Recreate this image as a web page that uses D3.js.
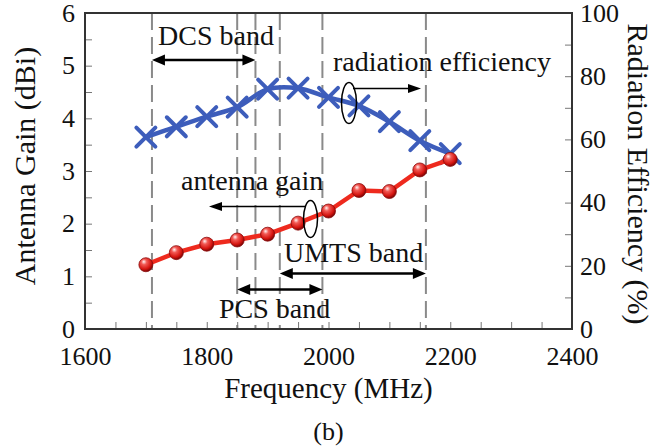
<!DOCTYPE html>
<html>
<head>
<meta charset="utf-8">
<script src="https://cdn.jsdelivr.net/npm/d3@7"></script>
<style>
  html, body { margin: 0; padding: 0; background: #fff; }
  svg { display: block; }
</style>
</head>
<body>
<div id="chart"></div>
<script>
// measured data
const freq = [1700, 1750, 1800, 1850, 1900, 1950, 2000, 2050, 2100, 2150, 2200];
const gain = [1.22, 1.45, 1.61, 1.69, 1.80, 2.01, 2.24, 2.63, 2.61, 3.02, 3.22];
const efficiency = [60.7, 64.0, 67.2, 70.2, 75.9, 76.2, 73.3, 70.6, 65.6, 59.6, 55.5];

// frequency bands (MHz)
const bandNames = ["DCS band", "PCS band", "UMTS band"];
const bandLow = [1710, 1850, 1920];
const bandHigh = [1880, 1990, 2160];

// axis ticks
const xTicks = [1600, 1800, 2000, 2200, 2400];
const gainTicks = [0, 1, 2, 3, 4, 5, 6];
const effTicks = [0, 20, 40, 60, 80, 100];

const width = 667, height = 447;
const plotLeft = 85, plotRight = 572, plotTop = 13, plotBottom = 329;
const serif = "Liberation Serif";

const svg = d3.select("#chart").append("svg")
  .attr("width", width)
  .attr("height", height)
  .attr("font-family", serif);

const x = d3.scaleLinear().domain([1600, 2400]).range([plotLeft, plotRight]);
const yG = d3.scaleLinear().domain([0, 6]).range([plotBottom, plotTop]);
const yE = d3.scaleLinear().domain([0, 100]).range([plotBottom, plotTop]);

const defs = svg.append("defs");
const grad = defs.append("radialGradient").attr("id", "ball")
  .attr("cx", "40%").attr("cy", "35%").attr("r", "65%")
  .attr("fx", "35%").attr("fy", "28%");
grad.append("stop").attr("offset", "0%").attr("stop-color", "#fff4f4");
grad.append("stop").attr("offset", "30%").attr("stop-color", "#f25a55");
grad.append("stop").attr("offset", "75%").attr("stop-color", "#d4140f");
grad.append("stop").attr("offset", "100%").attr("stop-color", "#7a0606");

// dashed band edges
const edges = Array.from(new Set(bandLow.concat(bandHigh))).sort(d3.ascending);
svg.append("g")
  .selectAll("line")
  .data(edges)
  .join("line")
  .attr("x1", d => x(d)).attr("x2", d => x(d))
  .attr("y1", plotTop).attr("y2", plotBottom)
  .attr("stroke", "#8a8a8a")
  .attr("stroke-width", 2)
  .attr("stroke-dasharray", "17,7");

// axes
const styleAxis = (g) => {
  g.attr("font-family", serif);
  g.select(".domain").remove();
  g.selectAll(".tick line").attr("stroke", "#777").attr("stroke-width", 1);
  g.selectAll("text").attr("fill", "#111").attr("font-size", 26);
};

svg.append("g")
  .attr("transform", `translate(0,${plotBottom})`)
  .call(d3.axisBottom(x).tickValues(d3.range(1600, 2401, 50)).tickSize(-7).tickFormat(""))
  .call(styleAxis);
svg.append("g")
  .attr("transform", `translate(0,${plotBottom})`)
  .call(d3.axisBottom(x).tickValues(xTicks).tickSize(0).tickPadding(18).tickFormat(d3.format("d")))
  .call(styleAxis);

svg.append("g")
  .attr("transform", `translate(${plotLeft},0)`)
  .call(d3.axisLeft(yG).tickValues(d3.range(0, 6.01, 0.5)).tickSize(-7).tickFormat(""))
  .call(styleAxis);
svg.append("g")
  .attr("transform", `translate(${plotLeft},0)`)
  .call(d3.axisLeft(yG).tickValues(gainTicks).tickSize(0).tickPadding(10).tickFormat(d3.format("d")))
  .call(styleAxis);

svg.append("g")
  .attr("transform", `translate(${plotRight},0)`)
  .call(d3.axisRight(yE).tickValues(d3.range(0, 101, 10)).tickSize(-7).tickFormat(""))
  .call(styleAxis);
svg.append("g")
  .attr("transform", `translate(${plotRight},0)`)
  .call(d3.axisRight(yE).tickValues(effTicks).tickSize(0).tickPadding(8).tickFormat(d3.format("d")))
  .call(styleAxis);

// frame
svg.append("rect")
  .attr("x", plotLeft).attr("y", plotTop)
  .attr("width", plotRight - plotLeft).attr("height", plotBottom - plotTop)
  .attr("fill", "none")
  .attr("stroke", "#333")
  .attr("stroke-width", 2);

// axis titles
svg.append("text")
  .attr("transform", `translate(35,166) rotate(-90)`)
  .attr("text-anchor", "middle")
  .attr("font-size", 30)
  .attr("fill", "#111")
  .text("Antenna Gain (dBi)");
svg.append("text")
  .attr("transform", `translate(628,174) rotate(90)`)
  .attr("text-anchor", "middle")
  .attr("font-size", 30)
  .attr("fill", "#111")
  .text("Radiation Efficiency (%)");
svg.append("text")
  .attr("x", (plotLeft + plotRight) / 2).attr("y", 398)
  .attr("text-anchor", "middle")
  .attr("font-size", 29)
  .attr("fill", "#111")
  .text("Frequency (MHz)");
svg.append("text")
  .attr("x", (plotLeft + plotRight) / 2).attr("y", 440)
  .attr("text-anchor", "middle")
  .attr("font-size", 26)
  .attr("fill", "#111")
  .text("(b)");

// efficiency series
const effPts = freq.map((f, i) => [x(f), yE(efficiency[i])]);
svg.append("path")
  .attr("d", d3.line().curve(d3.curveCatmullRom)(effPts))
  .attr("fill", "none")
  .attr("stroke", "#3d5dbb")
  .attr("stroke-width", 4.5);
svg.append("g")
  .selectAll("path")
  .data(effPts)
  .join("path")
  .attr("d", ([px, py]) => `M${px - 9.5},${py - 9.5}L${px + 9.5},${py + 9.5}M${px - 9.5},${py + 9.5}L${px + 9.5},${py - 9.5}`)
  .attr("stroke", "#3d5dbb")
  .attr("stroke-width", 4)
  .attr("stroke-linecap", "round");

// gain series
const gainPts = freq.map((f, i) => [x(f), yG(gain[i])]);
svg.append("path")
  .attr("d", d3.line()(gainPts))
  .attr("fill", "none")
  .attr("stroke", "#ee2a1e")
  .attr("stroke-width", 4.5);
svg.append("g")
  .selectAll("circle")
  .data(gainPts)
  .join("circle")
  .attr("cx", d => d[0]).attr("cy", d => d[1])
  .attr("r", 7)
  .attr("fill", "url(#ball)")
  .attr("stroke", "#8a0d0d")
  .attr("stroke-width", 0.8);

// arrows
const arrowHead = (g, x0, y0, dir, len, half) => {
  g.append("path")
    .attr("d", `M${x0},${y0}L${x0 - dir * len},${y0 - half}L${x0 - dir * len},${y0 + half}Z`)
    .attr("fill", "#000");
};

const band = svg.append("g");
const bandLayout = [
  { arrowY: 60, textX: 158, textY: 45 },
  { arrowY: 289.5, textX: 219, textY: 318 },
  { arrowY: 273.5, textX: 284, textY: 262 }
];
bandNames.forEach((name, i) => {
  const x0 = x(bandLow[i]), x1 = x(bandHigh[i]), ay = bandLayout[i].arrowY;
  band.append("line")
    .attr("x1", x0 + 8).attr("x2", x1 - 8)
    .attr("y1", ay).attr("y2", ay)
    .attr("stroke", "#000").attr("stroke-width", 2.5);
  arrowHead(band, x0, ay, -1, 13, 5.5);
  arrowHead(band, x1, ay, 1, 13, 5.5);
  band.append("text")
    .attr("x", bandLayout[i].textX).attr("y", bandLayout[i].textY)
    .attr("font-size", 28)
    .attr("fill", "#111")
    .text(name);
});

// series labels with loop + arrow
const note = svg.append("g");
note.append("text")
  .attr("x", 333).attr("y", 71)
  .attr("font-size", 28).attr("fill", "#111")
  .text("radiation efficiency");
note.append("ellipse")
  .attr("cx", 349).attr("cy", 103).attr("rx", 7.5).attr("ry", 20.5)
  .attr("fill", "none").attr("stroke", "#000").attr("stroke-width", 1.5);
note.append("line")
  .attr("x1", 353).attr("x2", 410).attr("y1", 88.5).attr("y2", 88.5)
  .attr("stroke", "#000").attr("stroke-width", 1.5);
arrowHead(note, 421, 88.5, 1, 13, 4.5);

note.append("text")
  .attr("x", 181).attr("y", 190)
  .attr("font-size", 28).attr("fill", "#111")
  .text("antenna gain");
note.append("ellipse")
  .attr("cx", 310.5).attr("cy", 219).attr("rx", 7).attr("ry", 18.5)
  .attr("fill", "none").attr("stroke", "#000").attr("stroke-width", 1.5);
note.append("line")
  .attr("x1", 306).attr("x2", 220).attr("y1", 206.5).attr("y2", 206.5)
  .attr("stroke", "#000").attr("stroke-width", 1.5);
arrowHead(note, 209, 206.5, -1, 13, 4.5);
</script>
</body>
</html>
